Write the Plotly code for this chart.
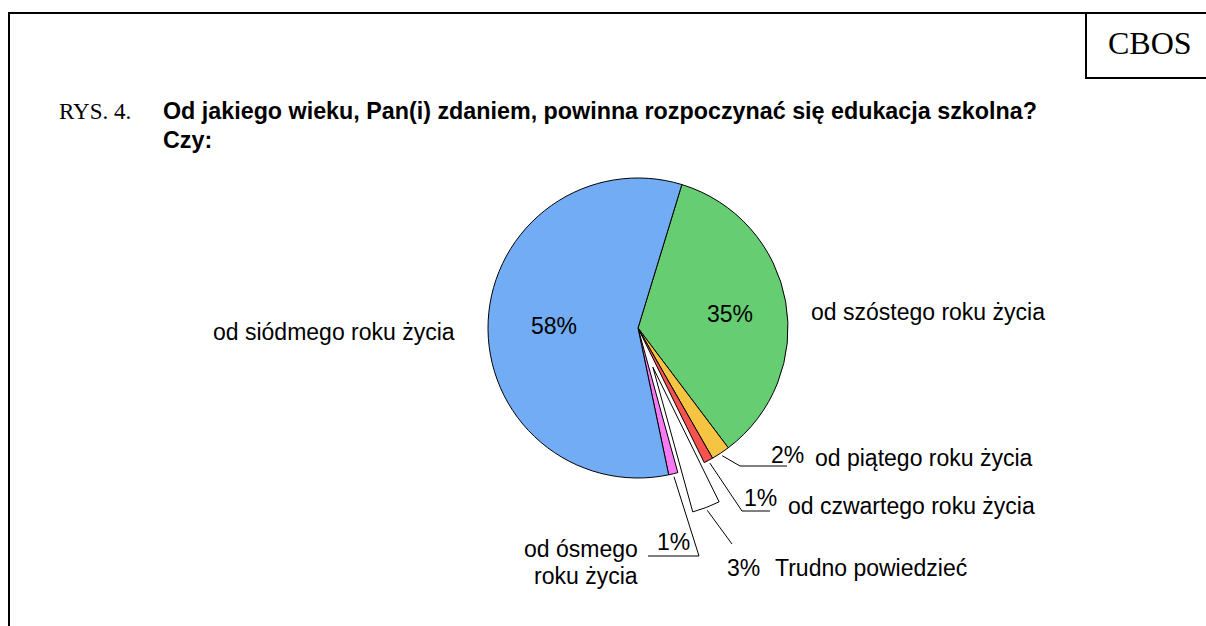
import math
import plotly.graph_objects as go

W, H = 1206, 626

# ---- data ----
labels = ["od szóstego roku życia", "od piątego roku życia", "od czwartego roku życia",
          "Trudno powiedzieć", "od ósmego roku życia", "od siódmego roku życia"]
values = [35, 2, 1, 3, 1, 58]
colors = ["#66CD73", "#F6C443", "#F8524E", "#FFFFFF", "#F77AF4", "#72ACF5"]
pulls = [0, 0, 0, 0.28, 0, 0]
pct_text = ["35%", "2%", "1%", "3%", "1%", "58%"]

title_prefix = "RYS. 4."
title_lines = ["Od jakiego wieku, Pan(i) zdaniem, powinna rozpoczynać się edukacja szkolna?", "Czy:"]
brand = "CBOS"

# ---- layout geometry (pixels in the screenshot) ----
CX, CY, R = 638, 328, 150
ROTATION = 17
maxpull = max(pulls)
half = R * (1 + maxpull)

def px(x):
    return x / W

def py(y):
    return 1 - y / H

FONT = "Liberation Sans, Arial, sans-serif"
SERIF = "Liberation Serif, Times New Roman, serif"

fig = go.Figure(go.Pie(
    labels=labels, values=values, sort=False, direction="clockwise",
    rotation=ROTATION, pull=pulls, textinfo="none", hoverinfo="label+percent",
    marker=dict(colors=colors, line=dict(color="black", width=1)),
    domain=dict(x=[px(CX - half), px(CX + half)], y=[py(CY + half), py(CY - half)]),
    showlegend=False,
))

# slice mid-angles derived from the data
total = sum(values)
mids = []
acc = 0
for v in values:
    mids.append(ROTATION + 360 * (acc + v / 2) / total)
    acc += v

def edge_point(i, rr=R):
    a = math.radians(mids[i])
    off = pulls[i] * R
    return (CX + (off + rr) * math.sin(a), CY - (off + rr) * math.cos(a))

ann = []
def text(x, y, s, size=23, xanchor="center", family=FONT, bold=False):
    ann.append(dict(x=px(x), y=py(y), xref="paper", yref="paper", text=("<b>%s</b>" % s) if bold else s,
                    showarrow=False, xanchor=xanchor, yanchor="middle",
                    font=dict(family=family, size=size, color="black")))

# inside percentages for the two big slices
for i, f in [(0, 0.62), (5, 0.56)]:
    a = math.radians(mids[i])
    text(CX + f * R * math.sin(a), CY + 2 - f * R * math.cos(a), pct_text[i])

# outside category labels
text(457, 332, labels[5], xanchor="right")
text(809, 312, labels[0], xanchor="left")
text(813, 458, labels[1], xanchor="left")
text(786, 506, labels[2], xanchor="left")
text(773, 568, labels[3], xanchor="left")
text(640, 549, "od ósmego", xanchor="right")
text(640, 576, "roku życia", xanchor="right")

# small percentages with leader lines: (index, elbow, horizontal end, text pos, anchor)
leaders = [
    (1, (740, 466), 787, (769, 455), "left"),
    (2, (742, 511), 770, (742, 498), "left"),
    (3, (732, 544), None, (725, 568), "left"),
    (4, (699, 556), 648, (655, 542), "left"),
]
shapes = []
for i, elbow, hend, tpos, anch in leaders:
    sx, sy = edge_point(i, R * 1.02)
    path = "M %f,%f L %f,%f" % (px(sx), py(sy), px(elbow[0]), py(elbow[1]))
    if hend is not None:
        path += " L %f,%f" % (px(hend), py(elbow[1]))
    shapes.append(dict(type="path", xref="paper", yref="paper", path=path,
                       line=dict(color="black", width=1)))
    text(tpos[0], tpos[1], pct_text[i], xanchor=anch)

# title
text(57, 111, title_prefix, family=SERIF, xanchor="left")
text(161, 111, title_lines[0], size=23.3, xanchor="left", bold=True)
text(161, 140, title_lines[1], size=23.3, xanchor="left", bold=True)
text(1150, 43, brand, size=32, family=SERIF)

# frame
frame = dict(color="black", width=2)
shapes += [
    dict(type="line", xref="paper", yref="paper", x0=px(9), y0=py(13), x1=px(9), y1=py(640), line=frame),
    dict(type="line", xref="paper", yref="paper", x0=px(8), y0=py(13), x1=px(1220), y1=py(13), line=frame),
    dict(type="rect", xref="paper", yref="paper", x0=px(1086), y0=py(13), x1=px(1230), y1=py(78), line=frame),
]

fig.update_layout(
    width=W, height=H, margin=dict(l=0, r=0, t=0, b=0),
    paper_bgcolor="white", plot_bgcolor="white",
    annotations=ann, shapes=shapes,
)

fig.write_html("out.html", config={"displayModeBar": False},
               post_script="document.body.style.margin='0px';document.body.style.overflow='hidden';")
